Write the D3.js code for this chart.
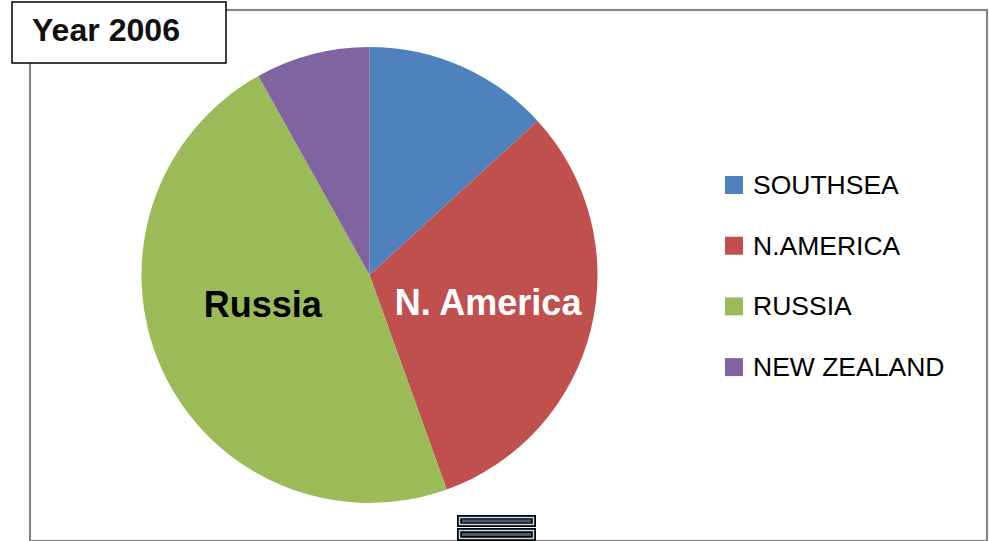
<!DOCTYPE html>
<html><head><meta charset="utf-8">
<script src="https://cdn.jsdelivr.net/npm/d3@7"></script>
<style>html,body{margin:0;padding:0;background:#fff;}svg{display:block;}</style>
</head><body>
<svg id="c" width="989" height="541"></svg>
<script>
const categories = ["SOUTHSEA", "N.AMERICA", "RUSSIA", "NEW ZEALAND"];
const values = [13.2, 31.3, 47.4, 8.1];
const colors = ["#4F81BD", "#C0504D", "#9BBB59", "#8064A2"];
const sliceLabels = ["", "N. America", "Russia", ""];
const labelColors = ["#000", "#fff", "#000", "#000"];
const title = "Year 2006";

const svg = d3.select("#c");
const font = "Liberation Sans, Arial, sans-serif";

// outer frame
svg.append("rect").attr("x", 30).attr("y", 10).attr("width", 957).attr("height", 531)
  .attr("fill", "#fff").attr("stroke", "#868686").attr("stroke-width", 2.2);

// pie
const cx = 369.5, cy = 275, r = 228;
const pie = d3.pie().sort(null).value(d => d.v);
const data = pie(categories.map((c, i) => ({c, v: values[i], i})));
const arc = d3.arc().innerRadius(0).outerRadius(r);
const g = svg.append("g").attr("transform", `translate(${cx},${cy})`);
g.selectAll("path").data(data).join("path")
  .attr("d", arc).attr("fill", d => colors[d.data.i]);

const labelRadius = [0.5, 0.54, 0.49, 0.5];
const labelDx = [0, -1, -5, 0];
const labelDy = [0, -2, -17, 0];
const lArc = d => d3.arc().innerRadius(r * labelRadius[d.data.i]).outerRadius(r * labelRadius[d.data.i]).centroid(d);
g.selectAll("text").data(data.filter(d => sliceLabels[d.data.i])).join("text")
  .attr("x", d => lArc(d)[0] + labelDx[d.data.i])
  .attr("y", d => lArc(d)[1] + labelDy[d.data.i])
  .attr("text-anchor", "middle").attr("dominant-baseline", "central")
  .attr("font-family", font).attr("font-weight", "bold").attr("font-size", 36)
  .attr("fill", d => labelColors[d.data.i])
  .text(d => sliceLabels[d.data.i]);

// legend
const lg = svg.append("g").attr("transform", "translate(725,185)");
const items = lg.selectAll("g").data(categories).join("g")
  .attr("transform", (d, i) => `translate(0,${i * 60.7})`);
items.append("rect").attr("x", 0).attr("y", -9).attr("width", 18).attr("height", 18)
  .attr("fill", (d, i) => colors[i]);
items.append("text").attr("x", 28).attr("y", 0).attr("dominant-baseline", "central")
  .attr("font-family", font).attr("font-size", 26.5).attr("fill", "#000").text(d => d);

// title box
svg.append("rect").attr("x", 12).attr("y", 2).attr("width", 214).attr("height", 61)
  .attr("fill", "#fff").attr("stroke", "#000").attr("stroke-width", 1.5);
svg.append("text").attr("x", 32).attr("y", 41).attr("font-family", font)
  .attr("font-weight", "bold").attr("font-size", 32).attr("fill", "#111")
  .attr("textLength", 148).attr("lengthAdjust", "spacingAndGlyphs").text(title);

// bottom icon
const ic = svg.append("g");
[[515, 12], [528, 13]].forEach(([y, h]) => {
  ic.append("rect").attr("x", 457).attr("y", y).attr("width", 79).attr("height", h)
    .attr("fill", "#000");
  ic.append("rect").attr("x", 459.5).attr("y", y + 2.5).attr("width", 74).attr("height", h - 5)
    .attr("fill", "none").attr("stroke", "#aee8ee").attr("stroke-width", 1.5);
  ic.append("rect").attr("x", 462).attr("y", y + h / 2 - 1.5).attr("width", 69).attr("height", 3)
    .attr("fill", "#556");
});
</script>
</body></html>
